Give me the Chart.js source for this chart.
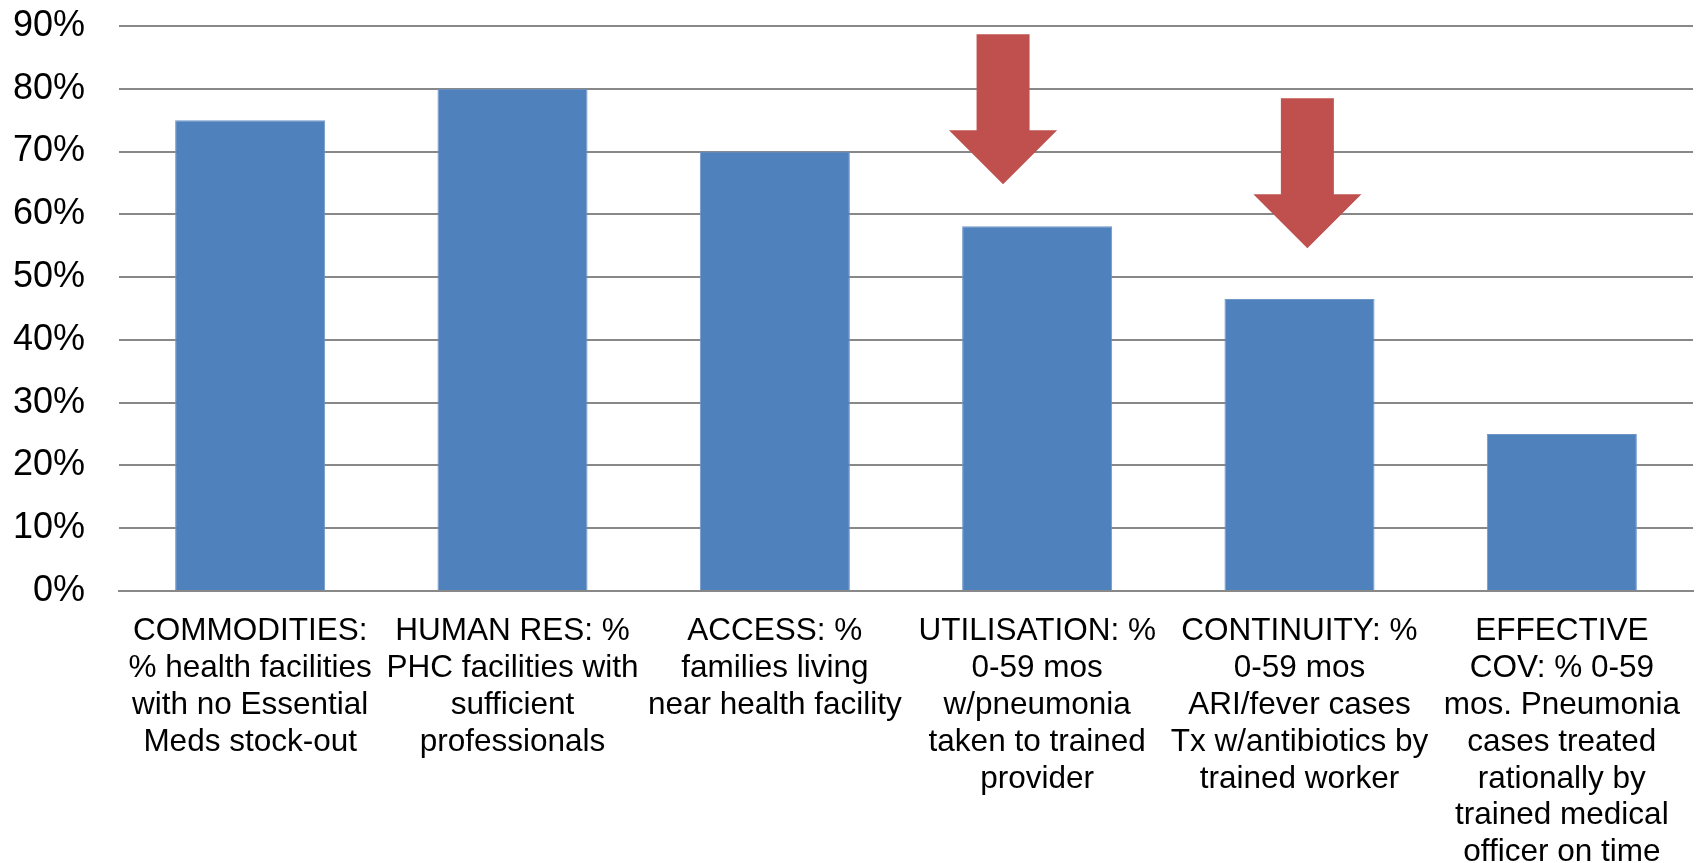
<!DOCTYPE html>
<html>
<head>
<meta charset="utf-8">
<script src="https://cdn.jsdelivr.net/npm/chart.js@4.4.1/dist/chart.umd.min.js"></script>
<style>
  html, body { margin: 0; padding: 0; background: #fff; }
  #wrap { width: 1700px; height: 863px; position: relative; }
</style>
</head>
<body>
<div id="wrap"><canvas id="chart"></canvas></div>
<script>
// categories (multi-line labels as shown under each bar)
const categories = [
  ['COMMODITIES:', '% health facilities', 'with no Essential', 'Meds stock-out'],
  ['HUMAN RES: %', 'PHC facilities with', 'sufficient', 'professionals'],
  ['ACCESS: %', 'families living', 'near health facility'],
  ['UTILISATION: %', '0-59 mos', 'w/pneumonia', 'taken to trained', 'provider'],
  ['CONTINUITY: %', '0-59 mos', 'ARI/fever cases', 'Tx w/antibiotics by', 'trained worker'],
  ['EFFECTIVE', 'COV: % 0-59', 'mos. Pneumonia', 'cases treated', 'rationally by', 'trained medical', 'officer on time'],
];
const coverage = [75, 80, 70, 58.1, 46.5, 25];
const yTicks = [0, 10, 20, 30, 40, 50, 60, 70, 80, 90];

// down arrows: category position, top of shaft, start of head, tip (in %)
const arrowAt = [2.87, 4.03];
const arrowTop = [88.7, 78.5];
const arrowHead = [73.4, 63.2];
const arrowTip = [64.8, 54.6];

const downArrows = {
  id: 'downArrows',
  afterDatasetsDraw(chart) {
    const { ctx, scales: { x, y } } = chart;
    const cat = x.width / categories.length;
    const shaft = cat * 0.101;
    const head = cat * 0.206;
    ctx.save();
    ctx.fillStyle = '#C0504D';
    arrowAt.forEach((pos, i) => {
      const cx = x.getPixelForValue(pos);
      const top = y.getPixelForValue(arrowTop[i]);
      const base = y.getPixelForValue(arrowHead[i]);
      const tip = y.getPixelForValue(arrowTip[i]);
      ctx.beginPath();
      ctx.moveTo(cx - shaft, top);
      ctx.lineTo(cx + shaft, top);
      ctx.lineTo(cx + shaft, base);
      ctx.lineTo(cx + head, base);
      ctx.lineTo(cx, tip);
      ctx.lineTo(cx - head, base);
      ctx.lineTo(cx - shaft, base);
      ctx.closePath();
      ctx.fill();
    });
    ctx.restore();
  },
};

new Chart(document.getElementById('chart'), {
  type: 'bar',
  data: {
    labels: categories,
    datasets: [{
      data: coverage,
      backgroundColor: '#4F81BD',
      borderColor: '#6f96c9',
      borderWidth: 1,
      barPercentage: 0.572,
      categoryPercentage: 1,
    }],
  },
  options: {
    responsive: true,
    maintainAspectRatio: false,
    animation: false,
    layout: { autoPadding: false, padding: { left: 0, right: 7, top: 26, bottom: 0 } },
    plugins: { legend: { display: false }, tooltip: { enabled: false } },
    scales: {
      x: {
        grid: { display: false },
        border: { color: '#888888', width: 2 },
        afterFit: (axis) => { axis.height = 272; },
        ticks: {
          color: '#000',
          font: { family: '"Liberation Sans", Arial, sans-serif', size: 31.5, lineHeight: 1.17 },
          maxRotation: 0,
          autoSkip: false,
          padding: 14,
        },
      },
      y: {
        min: 0,
        max: 90,
        afterBuildTicks: (axis) => { axis.ticks = yTicks.map((v) => ({ value: v })); },
        afterFit: (axis) => {
          // keep the tick padding from shrinking the plot vertically
          axis.width = 119;
          axis.paddingTop = 0;
          axis.paddingBottom = 0;
        },
        grid: { color: '#888888', lineWidth: 2, drawTicks: false },
        border: { display: false },
        ticks: {
          color: '#000',
          font: { family: '"Liberation Sans", Arial, sans-serif', size: 36 },
          padding: 34,
          callback: (v) => v + '%',
        },
      },
    },
  },
  plugins: [downArrows],
});
</script>
</body>
</html>
